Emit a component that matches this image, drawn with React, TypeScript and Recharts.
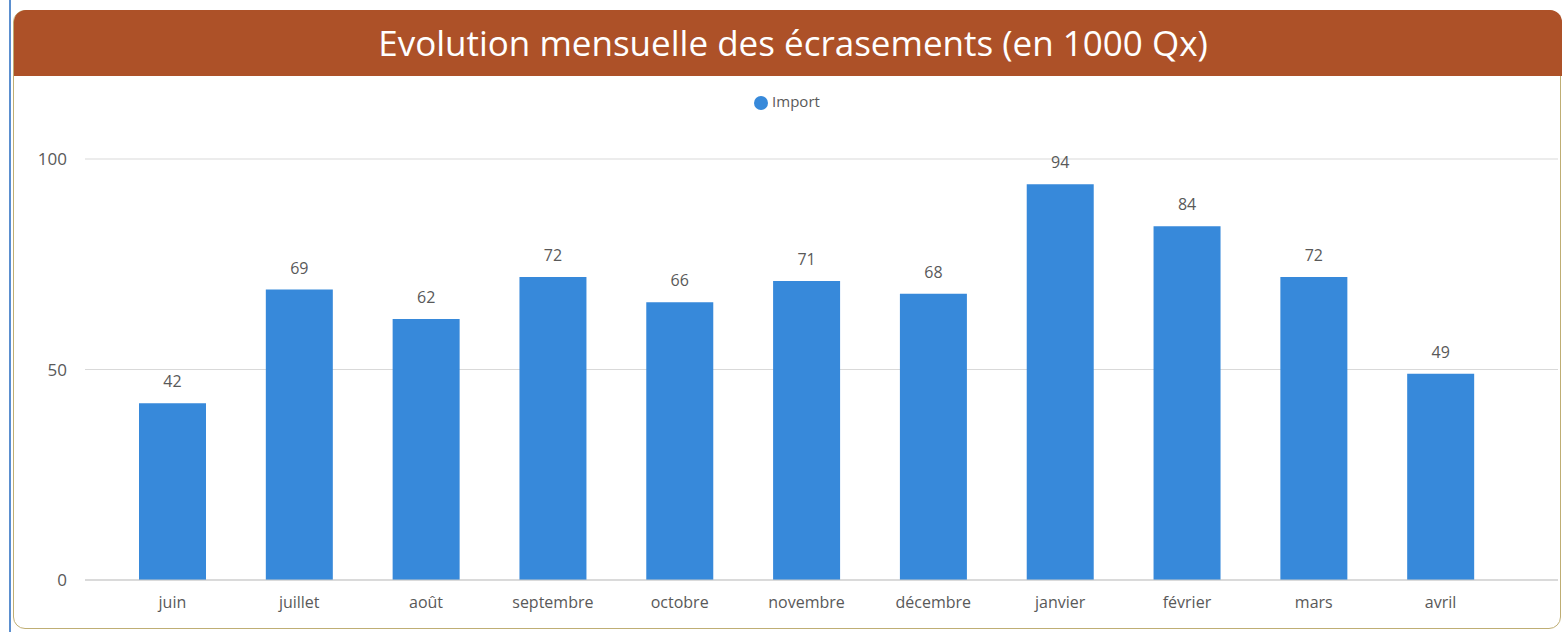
import React from 'react';
import { BarChart, Bar, XAxis, YAxis, CartesianGrid, Legend, LabelList } from 'recharts';

const months = ['juin', 'juillet', 'août', 'septembre', 'octobre', 'novembre', 'décembre', 'janvier', 'février', 'mars', 'avril'];
const importValues = [42, 69, 62, 72, 66, 71, 68, 94, 84, 72, 49];
const yTicks = [0, 50, 100];

const data = months.map((m, i) => ({ month: m, Import: importValues[i] }));

const font = '"Open Sans", "Noto Sans", sans-serif';

export default function App() {
  return (
    <div style={{ position: 'absolute', top: 0, left: 0, width: 1564, height: 632, background: '#fff', fontFamily: font, overflow: 'hidden' }}>
      {/* blue edge on the far left */}
      <div style={{ position: 'absolute', left: 9, top: 0, width: 2, height: 632, background: '#5b8fcf' }} />
      {/* card frame */}
      <div style={{ position: 'absolute', left: 13, top: 10, width: 1548, height: 619, border: '1px solid #bfae74', borderRadius: 12, boxSizing: 'border-box' }} />
      {/* header */}
      <div style={{
        position: 'absolute', left: 14, top: 10, width: 1548, height: 66,
        background: '#AD5128', borderRadius: '12px 12px 0 0',
        color: '#fff', fontSize: 35, lineHeight: '66px', textAlign: 'center', paddingLeft: 10, boxSizing: 'border-box',
      }}>
        Evolution mensuelle des écrasements (en 1000 Qx)
      </div>
      <div style={{ position: 'absolute', left: 0, top: 0 }}>
        <BarChart width={1564} height={632} data={data} margin={{ top: 139, right: 6, bottom: 0, left: 25 }}>
          <CartesianGrid vertical={false} stroke="#d9d9d9" />
          <Legend
            verticalAlign="top"
            iconType="circle"
            iconSize={14}
            wrapperStyle={{ top: 91, left: 0, width: 1564, paddingLeft: 10, fontSize: 15, fontFamily: font }}
            formatter={(v: any) => <span style={{ color: '#595959' }}>{v}</span>}
          />
          <XAxis
            dataKey="month"
            height={52}
            tickLine={false}
            tickMargin={11}
            axisLine={{ stroke: '#c8c8c8' }}
            padding={{ left: 24, right: 54 }}
            tick={{ fill: '#595959', fontSize: 16, fontFamily: font }}
            interval={0}
          />
          <YAxis
            width={60}
            domain={[0, 100]}
            ticks={yTicks}
            tickLine={false}
            axisLine={false}
            tickMargin={12}
            tick={{ fill: '#595959', fontSize: 17, fontFamily: font }}
          />
          <Bar dataKey="Import" name="Import" fill="#3789DA" barSize={67} isAnimationActive={false}>
            <LabelList dataKey="Import" position="top" offset={16} fill="#595959" fontSize={16} fontFamily={font} />
          </Bar>
        </BarChart>
      </div>
    </div>
  );
}
